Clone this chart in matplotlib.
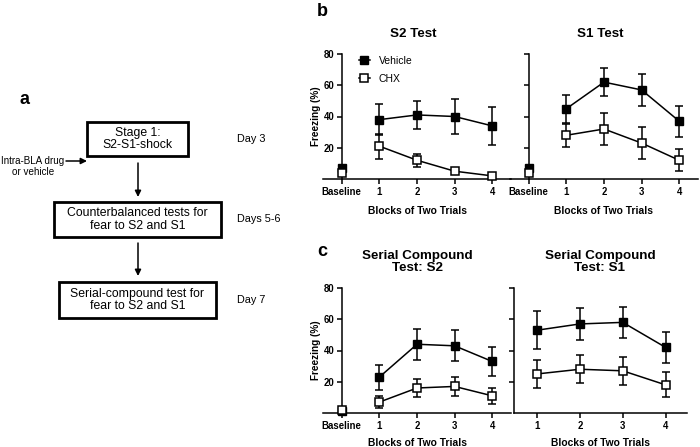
import matplotlib
matplotlib.use("Agg")
import matplotlib.pyplot as plt
from matplotlib.patches import Rectangle
from matplotlib.lines import Line2D

plt.rcParams['font.family'] = ['Liberation Sans', 'DejaVu Sans']

### Daten
blocks = [1, 2, 3, 4]
block_labels = ['1', '2', '3', '4']

# b: S2 Test
s2_base_veh, s2_base_chx = 7, 4
s2_veh = [38, 41, 40, 34]
s2_veh_err = [10, 9, 11, 12]
s2_chx = [21, 12, 5, 2]
s2_chx_err = [8, 4, 1, 0.6]

# b: S1 Test
s1_base_veh, s1_base_chx = 7, 4
s1_veh = [45, 62, 57, 37]
s1_veh_err = [9, 9, 10, 10]
s1_chx = [28, 32, 23, 12]
s1_chx_err = [7.5, 10, 10, 7]

# c: Serial compound
sc2_base_veh, sc2_base_chx = 1, 2
sc2_veh = [23, 44, 43, 33]
sc2_veh_err = [8, 10, 10, 9]
sc2_chx = [7, 16, 17, 11]
sc2_chx_err = [4, 6, 6, 5]

sc1_veh = [53, 57, 58, 42]
sc1_veh_err = [12, 10, 10, 10]
sc1_chx = [25, 28, 27, 18]
sc1_chx_err = [9, 9, 9, 8]

yticks = [20, 40, 60, 80]

W, H = 700, 447
fig = plt.figure(figsize=(7, 4.47), dpi=100)


def box(x0, y0, x1, y1):
    # Pixel (oben links) -> figure coords
    return [x0 / W, 1 - y1 / H, (x1 - x0) / W, (y1 - y0) / H]


def ftext(x, y, s, **kw):
    fig.text(x / W, 1 - y / H, s, **kw)


MS = 5.6
veh_style = dict(marker='s', color='k', mfc='k', mec='k', ms=MS, lw=1.1,
                 ecolor='k', elinewidth=1.1, capsize=3, capthick=1.1)
chx_style = dict(marker='s', color='k', mfc='white', mec='k', ms=MS, lw=1.1, mew=1.1,
                 ecolor='k', elinewidth=1.1, capsize=3, capthick=1.1)


def setup(ax, xlim, xticks, xlabels, ylabels=True, spine_at=None, xlabelpad=7):
    ax.set_xlim(*xlim)
    ax.set_ylim(0, 80)
    for s in ['top', 'right']:
        ax.spines[s].set_visible(False)
    for s in ['left', 'bottom']:
        ax.spines[s].set_linewidth(1.1)
    if spine_at is not None:
        ax.spines['left'].set_position(('data', spine_at))
    ax.set_xticks(xticks)
    ax.set_xticklabels(xlabels, fontweight='bold', fontsize=6.9)
    ax.set_yticks(yticks)
    if ylabels:
        ax.set_yticklabels([str(v) for v in yticks], fontweight='bold', fontsize=6.9)
        ax.set_ylabel('Freezing (%)', fontweight='bold', fontsize=7.2, labelpad=2)
    else:
        ax.set_yticklabels([])
    ax.tick_params(direction='out', length=3.5, width=1.1, pad=2)
    ax.set_xlabel('Blocks of Two Trials', fontweight='bold', fontsize=7.4, labelpad=xlabelpad)
    ax.patch.set_alpha(0)


def draw(ax, veh, veh_err, chx, chx_err, base_veh=None, base_chx=None):
    ax.errorbar(blocks, veh, yerr=veh_err, clip_on=False, zorder=3, **veh_style)
    ax.errorbar(blocks, chx, yerr=chx_err, clip_on=False, zorder=4, **chx_style)
    if base_veh is not None:
        ax.plot([0], [base_veh], ls='none', marker='s', mfc='k', mec='k', ms=MS, clip_on=False, zorder=5)
        ax.plot([0], [base_chx], ls='none', marker='s', mfc='white', mec='k', ms=MS, mew=1.1,
                clip_on=False, zorder=6)


### b: S2 Test
ax1 = fig.add_axes(box(323, 54, 511, 179))
draw(ax1, s2_veh, s2_veh_err, s2_chx, s2_chx_err, s2_base_veh, s2_base_chx)
setup(ax1, (-0.5, 4.5), [0] + blocks, ['Baseline'] + block_labels, spine_at=0)
handles = [Line2D([], [], color='k', marker='s', mfc='k', mec='k', ms=MS, lw=1.1),
           Line2D([], [], color='k', marker='s', mfc='white', mec='k', ms=MS, lw=1.1, mew=1.1)]
ax1.legend(handles, ['Vehicle', 'CHX'], loc='upper left', bbox_to_anchor=(0.14, 1.06),
           frameon=False, fontsize=7.5, handlelength=1.1, handletextpad=0.8, labelspacing=0.75)

### b: S1 Test
ax2 = fig.add_axes(box(510, 54, 698, 179))
draw(ax2, s1_veh, s1_veh_err, s1_chx, s1_chx_err, s1_base_veh, s1_base_chx)
setup(ax2, (-0.5, 4.5), [0] + blocks, ['Baseline'] + block_labels, ylabels=False, spine_at=0)

### c: Serial compound S2
ax3 = fig.add_axes(box(323, 288, 511, 413))
draw(ax3, sc2_veh, sc2_veh_err, sc2_chx, sc2_chx_err, sc2_base_veh, sc2_base_chx)
setup(ax3, (-0.5, 4.5), [0] + blocks, ['Baseline'] + block_labels, spine_at=0, xlabelpad=5)

### c: Serial compound S1
ax4 = fig.add_axes(box(514, 288, 687, 413))
draw(ax4, sc1_veh, sc1_veh_err, sc1_chx, sc1_chx_err)
setup(ax4, (0.46, 4.5), blocks, block_labels, ylabels=False, xlabelpad=5)

# Titel
ftext(413, 34, 'S2 Test', ha='center', va='center', fontweight='bold', fontsize=9.6)
ftext(600, 34, 'S1 Test', ha='center', va='center', fontweight='bold', fontsize=9.6)
ftext(417, 262, 'Serial Compound\nTest: S2', ha='center', va='center', fontweight='bold',
      fontsize=9.6, linespacing=1.0)
ftext(600, 262, 'Serial Compound\nTest: S1', ha='center', va='center', fontweight='bold',
      fontsize=9.6, linespacing=1.0)
ftext(322, 11, 'b', ha='center', va='center', fontweight='bold', fontsize=13)
ftext(322, 252, 'c', ha='center', va='center', fontweight='bold', fontsize=13)
ftext(25, 99, 'a', ha='center', va='center', fontweight='bold', fontsize=13)

### a: Ablaufschema
bg = fig.add_axes([0, 0, 1, 1])
bg.set_xlim(0, W)
bg.set_ylim(H, 0)
bg.axis('off')
bg.patch.set_alpha(0)

boxes = [(87, 122, 188, 156, 'Stage 1:\nS2-S1-shock'),
         (54, 202, 221, 237, 'Counterbalanced tests for\nfear to S2 and S1'),
         (59, 282, 216, 318, 'Serial-compound test for\nfear to S2 and S1')]
for x0, y0, x1, y1, txt in boxes:
    bg.add_patch(Rectangle((x0, y0), x1 - x0, y1 - y0, fill=False, ec='k', lw=2))
    bg.text((x0 + x1) / 2, (y0 + y1) / 2, txt, ha='center', va='center', fontsize=8.8,
            linespacing=1.05)

arrow = dict(arrowstyle='-|>', color='k', lw=1.1, mutation_scale=9, shrinkA=0, shrinkB=0)
bg.annotate('', xy=(138, 197), xytext=(138, 163), arrowprops=arrow)
bg.annotate('', xy=(138, 276), xytext=(138, 243), arrowprops=arrow)
bg.annotate('', xy=(87, 161), xytext=(66, 161), arrowprops=arrow)
bg.text(33, 161, 'Intra-BLA drug', ha='center', va='center', fontsize=7.1)
bg.text(33, 172, 'or vehicle', ha='center', va='center', fontsize=7.1)

days = ['Day 3', 'Days 5-6', 'Day 7']
for (x0, y0, x1, y1, _), d in zip(boxes, days):
    bg.text(237, (y0 + y1) / 2, d, ha='left', va='center', fontsize=7.8)

fig.savefig('out.png', dpi=100, facecolor='white')
